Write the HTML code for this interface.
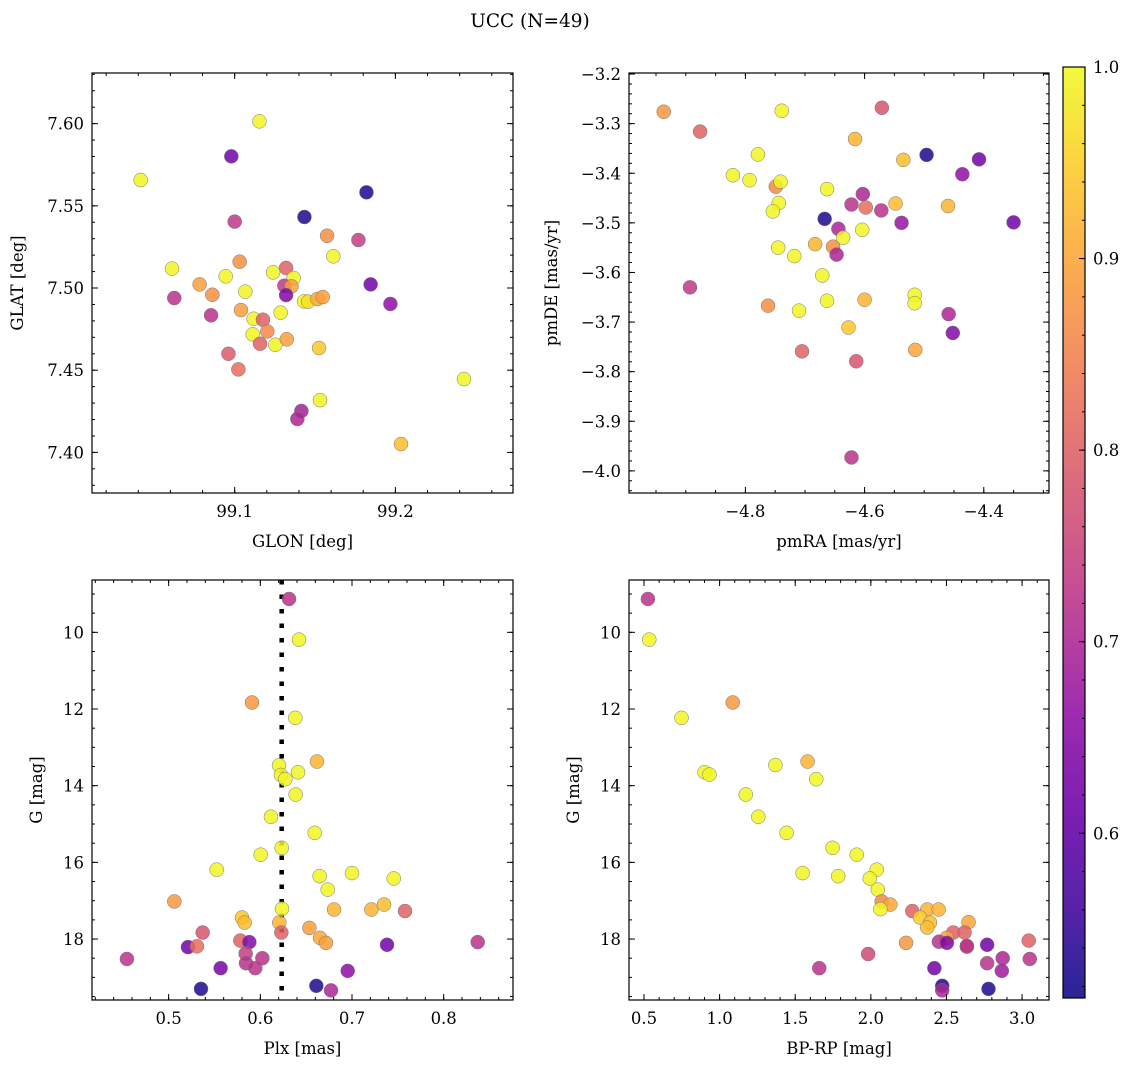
<!DOCTYPE html>
<html><head><meta charset="utf-8">
<style>
html,body{margin:0;padding:0;background:#fff;}
svg{display:block;font-family:"DejaVu Serif","Liberation Serif",serif;}
</style></head>
<body>
<svg id="fig" width="1136" height="1067" viewBox="0 0 1136 1067">
<text x="530" y="27" font-size="18.5" text-anchor="middle">UCC (N=49)</text>
</svg>
<script>
// ---------- data ----------
const tlX=[99.1154,99.0979,99.0415,99.182,99.1434,99.1,99.1575,99.177,99.1614,99.061,99.1031,99.132,99.1239,99.1367,99.0782,99.0944,99.1309,99.1353,99.1846,99.0624,99.132,99.0861,99.1066,99.1432,99.1457,99.1515,99.1548,99.1969,99.0853,99.1039,99.1286,99.1118,99.1176,99.1203,99.1112,99.1158,99.1253,99.1324,99.1525,99.0961,99.1023,99.2427,99.1531,99.1415,99.139,99.2035];
const tlY=[7.6014,7.5801,7.5657,7.5582,7.5432,7.5404,7.5318,7.5292,7.5193,7.5118,7.516,7.5122,7.5095,7.5061,7.5022,7.5071,7.5014,7.501,7.5022,7.4939,7.4957,7.4959,7.4978,7.4919,7.4917,7.4933,7.4945,7.4903,7.4834,7.4866,7.485,7.4813,7.4807,7.4736,7.4718,7.4661,7.4655,7.4688,7.4635,7.46,7.4505,7.4446,7.4318,7.4252,7.4203,7.4051];
const tlP=[0.995,0.62,0.995,0.53,0.53,0.73,0.87,0.74,0.995,0.995,0.87,0.80,0.995,0.995,0.89,0.995,0.73,0.89,0.62,0.72,0.64,0.87,0.995,0.995,0.97,0.91,0.89,0.66,0.72,0.89,0.995,0.995,0.80,0.86,0.995,0.80,0.995,0.89,0.94,0.79,0.82,0.995,0.995,0.69,0.70,0.93];

const trX=[-4.937,-4.876,-4.739,-4.571,-4.616,-4.779,-4.535,-4.496,-4.408,-4.436,-4.821,-4.793,-4.749,-4.741,-4.663,-4.603,-4.622,-4.598,-4.572,-4.548,-4.460,-4.744,-4.754,-4.667,-4.538,-4.350,-4.644,-4.604,-4.636,-4.683,-4.653,-4.647,-4.745,-4.718,-4.671,-4.893,-4.762,-4.710,-4.663,-4.600,-4.516,-4.516,-4.459,-4.452,-4.627,-4.705,-4.614,-4.515,-4.622];
const trY=[-3.276,-3.316,-3.274,-3.268,-3.331,-3.362,-3.373,-3.363,-3.372,-3.402,-3.404,-3.414,-3.427,-3.417,-3.432,-3.442,-3.463,-3.469,-3.475,-3.461,-3.466,-3.460,-3.477,-3.492,-3.500,-3.499,-3.512,-3.514,-3.530,-3.543,-3.548,-3.564,-3.550,-3.567,-3.606,-3.630,-3.667,-3.677,-3.657,-3.655,-3.645,-3.662,-3.684,-3.722,-3.711,-3.759,-3.779,-3.756,-3.973];
const trP=[0.88,0.80,0.995,0.78,0.92,0.995,0.93,0.53,0.62,0.66,0.995,0.995,0.86,0.995,0.995,0.70,0.72,0.82,0.72,0.93,0.92,0.995,0.995,0.53,0.67,0.62,0.70,0.995,0.995,0.92,0.87,0.70,0.995,0.995,0.995,0.73,0.87,0.995,0.995,0.92,0.995,0.995,0.70,0.64,0.94,0.80,0.78,0.90,0.72];

const blX=[0.6313,0.6422,0.5909,0.6382,0.6618,0.6204,0.6225,0.6273,0.6411,0.6385,0.6116,0.6593,0.6233,0.6004,0.5524,0.6647,0.7,0.7455,0.6735,0.5062,0.6236,0.6804,0.7211,0.7349,0.7578,0.58,0.5829,0.6207,0.6535,0.6229,0.5371,0.6651,0.6716,0.5782,0.588,0.7382,0.8371,0.5211,0.5309,0.584,0.6022,0.5844,0.4545,0.5945,0.5567,0.6953,0.5353,0.6611,0.6771];
const blY=[9.13,10.19,11.83,12.23,13.37,13.47,13.72,13.83,13.65,14.23,14.81,15.23,15.62,15.80,16.19,16.36,16.28,16.42,16.71,17.02,17.21,17.23,17.23,17.10,17.27,17.44,17.57,17.57,17.71,17.83,17.83,17.97,18.10,18.04,18.08,18.15,18.08,18.21,18.19,18.38,18.50,18.63,18.52,18.76,18.76,18.83,19.30,19.22,19.34];
const blP=[0.72,0.995,0.88,0.995,0.92,0.995,0.995,0.995,0.995,0.995,0.995,0.995,0.995,0.995,0.995,0.995,0.995,0.995,0.995,0.88,0.995,0.92,0.92,0.93,0.80,0.94,0.93,0.92,0.89,0.80,0.78,0.90,0.89,0.80,0.64,0.62,0.72,0.62,0.82,0.74,0.72,0.72,0.72,0.72,0.63,0.66,0.53,0.53,0.70];

const brX=[0.526,0.535,1.087,0.748,1.369,1.582,1.639,0.9,0.933,1.173,1.256,1.443,1.747,1.907,1.549,1.784,2.039,1.993,2.046,2.072,2.129,2.063,2.274,2.373,2.448,2.325,2.391,2.373,2.646,2.545,2.62,2.501,2.635,2.233,2.45,2.503,2.769,3.044,3.051,2.872,2.769,2.866,1.982,1.659,2.42,2.472,2.472,2.778,2.635];
const brY=[9.13,10.19,11.83,12.23,13.46,13.37,13.83,13.65,13.71,14.23,14.81,15.23,15.62,15.80,16.28,16.36,16.19,16.42,16.71,17.02,17.10,17.22,17.27,17.23,17.23,17.44,17.57,17.70,17.56,17.83,17.83,17.97,18.20,18.10,18.07,18.10,18.15,18.04,18.52,18.50,18.63,18.83,18.39,18.76,18.76,19.22,19.34,19.30,18.18];
const brP=[0.72,0.995,0.88,0.995,0.995,0.92,0.995,0.995,0.995,0.995,0.995,0.995,0.995,0.995,0.995,0.995,0.995,0.995,0.995,0.86,0.90,0.995,0.80,0.92,0.92,0.95,0.93,0.93,0.90,0.80,0.80,0.90,0.78,0.88,0.72,0.64,0.62,0.80,0.72,0.70,0.72,0.68,0.76,0.72,0.62,0.53,0.70,0.53,0.72];

const tlXTicks=["99.1","99.2"], tlYTicks=["7.40","7.45","7.50","7.55","7.60"];
const trXTicks=["−4.8","−4.6","−4.4"], trYTicks=["−4.0","−3.9","−3.8","−3.7","−3.6","−3.5","−3.4","−3.3","−3.2"];
const blXTicks=["0.5","0.6","0.7","0.8"], gTicks=["10","12","14","16","18"];
const brXTicks=["0.5","1.0","1.5","2.0","2.5","3.0"];
const cbTicks=["0.6","0.7","0.8","0.9","1.0"];
const plxMedian=0.6233;
const vmin=0.514, vmax=1.0;

// ---------- rendering ----------
const NS="http://www.w3.org/2000/svg";
const svg=document.getElementById('fig');
function mk(tag,attrs,parent){const e=document.createElementNS(NS,tag);for(const k in attrs)e.setAttribute(k,attrs[k]);(parent||svg).appendChild(e);return e;}
const stops=["#0d0887","#41049d","#6a00a8","#8f0da4","#b12a90","#cc4778","#e16462","#f2844b","#fca636","#fcce25","#f0f921"];
function hex(h){return [parseInt(h.substr(1,2),16),parseInt(h.substr(3,2),16),parseInt(h.substr(5,2),16)];}
function plasma(t){t=Math.max(0,Math.min(1,t));const f=t*10,i=Math.min(9,Math.floor(f)),u=f-i;const a=hex(stops[i]),b=hex(stops[i+1]);return "rgb("+a.map((v,k)=>Math.round(v+(b[k]-v)*u)).join(",")+")";}
function pcol(p){return plasma((p-vmin)/(vmax-vmin));}
const TF=16.5, LF=16.5;

function panel(cfg){
  const {name,L,T,W,H,x0,x1,y0,y1,invY}=cfg;
  const g=mk('g',{});
  
  
  const sx=v=>L+(v-x0)/(x1-x0)*W;
  const sy=v=>invY?T+(v-y0)/(y1-y0)*H:T+H-(v-y0)/(y1-y0)*H;
  const clip=mk('clipPath',{id:'c'+name},g);mk('rect',{x:L,y:T,width:W,height:H},clip);
  const pts=mk('g',{'clip-path':'url(#c'+name+')'},g);
  
  
  if(cfg.vline!==undefined){
    const ln=mk('line',{x1:sx(cfg.vline),x2:sx(cfg.vline),y1:T,y2:T+H,stroke:'#000','stroke-width':4.5,'stroke-dasharray':'4.5,10'},pts);
    
    
  }
  for(let i=0;i<cfg.xs.length;i++){
    const c=mk('circle',{cx:sx(cfg.xs[i]),cy:sy(cfg.ys[i]),r:7,fill:pcol(cfg.ps[i]),'fill-opacity':0.85,stroke:'#777','stroke-width':0.5},pts);
    
    
  }
  const tk=mk('g',{stroke:'#000','stroke-width':1},g);
  function xt(v,len){const x=sx(v);if(x<L-0.5||x>L+W+0.5)return;mk('line',{x1:x,x2:x,y1:T+H,y2:T+H-len},tk);mk('line',{x1:x,x2:x,y1:T,y2:T+len},tk);}
  function yt(v,len){const y=sy(v);if(y<T-0.5||y>T+H+0.5)return;mk('line',{x1:L,x2:L+len,y1:y,y2:y},tk);mk('line',{x1:L+W,x2:L+W-len,y1:y,y2:y},tk);}
  for(let v=Math.ceil(x0/cfg.xmin)*cfg.xmin;v<=x1;v+=cfg.xmin)xt(v,3);
  for(let v=Math.ceil(y0/cfg.ymin)*cfg.ymin;v<=y1;v+=cfg.ymin)yt(v,3);
  cfg.xticks.forEach(s=>{const v=parseFloat(s.replace('−','-'));xt(v,6);
    const t=mk('text',{x:sx(v),y:T+H+24,'font-size':TF,'text-anchor':'middle'},g);t.textContent=s;
    });
  cfg.yticks.forEach(s=>{const v=parseFloat(s.replace('−','-'));yt(v,6);
    const t=mk('text',{x:L-8,y:sy(v)+6,'font-size':TF,'text-anchor':'end'},g);t.textContent=s;
    });
  const fr=mk('rect',{x:L,y:T,width:W,height:H,fill:'none',stroke:'#000','stroke-width':1.2},g);
  
  const xl=mk('text',{x:L+W/2,y:T+H+54,'font-size':LF,'text-anchor':'middle'},g);xl.textContent=cfg.xlabel;
  
  const yl=mk('text',{x:cfg.ylx,y:T+H/2,'font-size':LF,'text-anchor':'middle',transform:'rotate(-90 '+cfg.ylx+' '+(T+H/2)+')'},g);yl.textContent=cfg.ylabel;
  
}

panel({name:'glon-glat-panel',L:92,T:73,W:421,H:420,x0:99.0112,x1:99.2732,y0:7.3753,y1:7.6308,xs:tlX,ys:tlY,ps:tlP,xticks:tlXTicks,yticks:tlYTicks,xmin:0.02,ymin:0.01,xlabel:'GLON [deg]',ylabel:'GLAT [deg]',ylx:23});
panel({name:'pm-panel',L:629,T:73,W:420,H:420,x0:-4.9953,x1:-4.2906,y0:-4.0446,y1:-3.1979,xs:trX,ys:trY,ps:trP,xticks:trXTicks,yticks:trYTicks,xmin:0.05,ymin:0.02,xlabel:'pmRA [mas/yr]',ylabel:'pmDE [mas/yr]',ylx:557});
panel({name:'plx-g-panel',L:92,T:580,W:421,H:420,x0:0.4164,x1:0.8756,y0:8.635,y1:19.59,invY:true,xs:blX,ys:blY,ps:blP,xticks:blXTicks,yticks:gTicks,xmin:0.02,ymin:0.5,xlabel:'Plx [mas]',ylabel:'G [mag]',ylx:42,vline:plxMedian});
panel({name:'cmd-panel',L:629,T:580,W:420,H:420,x0:0.401,x1:3.178,y0:8.635,y1:19.59,invY:true,xs:brX,ys:brY,ps:brP,xticks:brXTicks,yticks:gTicks,xmin:0.1,ymin:0.5,xlabel:'BP-RP [mag]',ylabel:'G [mag]',ylx:579});

// colorbar
(function(){
  const L=1063,T=67,W=22,H=931;
  const cb=mk('g',{});
  
  
  const defs=mk('defs',{},cb);
  const lg=mk('linearGradient',{id:'plasmaGrad',x1:0,y1:1,x2:0,y2:0},defs);
  for(let i=0;i<=20;i++){const v=vmin+(vmax-vmin)*i/20;mk('stop',{offset:(i/20),'stop-color':pcol(v),'stop-opacity':0.88},lg);}
  mk('rect',{x:L,y:T,width:W,height:H,fill:'url(#plasmaGrad)',stroke:'#000','stroke-width':1.2},cb);
  const sy=v=>T+H-(v-vmin)/(vmax-vmin)*H;
  for(let v=0.52;v<=1.0001;v+=0.02){mk('line',{x1:L+W,x2:L+W-3,y1:sy(v),y2:sy(v),stroke:'#000','stroke-width':1},cb);}
  cbTicks.forEach(s=>{const v=parseFloat(s);const y=sy(v);
    mk('line',{x1:L+W,x2:L+W-6,y1:y,y2:y,stroke:'#000','stroke-width':1},cb);
    const t=mk('text',{x:L+W+8,y:y+6,'font-size':TF},cb);t.textContent=s;
    });
})();
</script>
</body></html>
